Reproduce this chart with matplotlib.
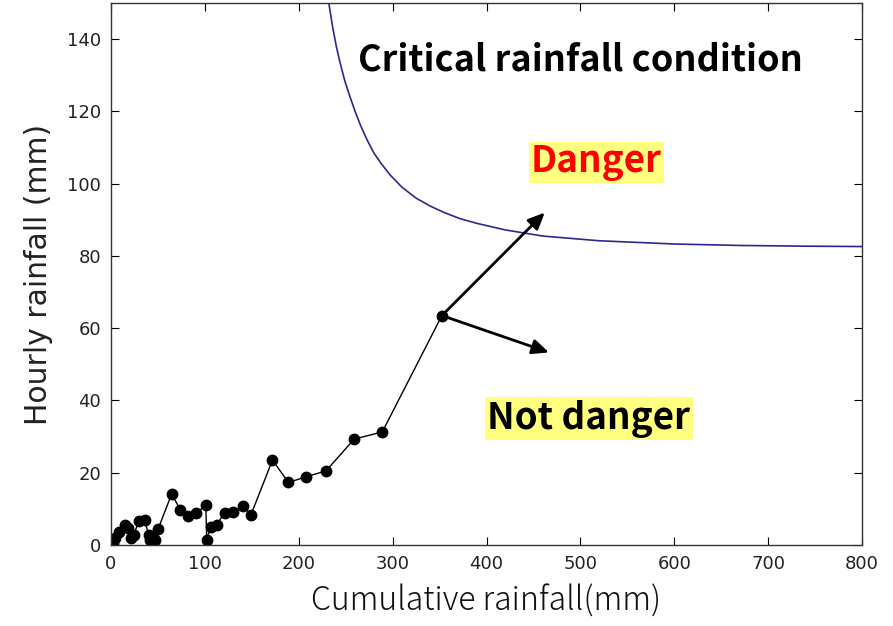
import matplotlib
matplotlib.use("Agg")
import matplotlib.pyplot as plt

plt.rcParams["font.family"] = ["DejaVu Sans"]

# Observed rainfall (cumulative vs hourly)
cumulative = [2, 4, 8, 15, 18.5, 21, 24, 30, 36, 40, 41.5, 45, 47, 50, 64.6, 74, 82, 91,
              101, 102, 106, 112.5, 121, 130, 141, 149, 172, 189, 208, 229, 259, 289, 352.5]
hourly = [0.5, 1.9, 3.7, 5.5, 4.6, 1.9, 2.8, 6.7, 6.9, 2.8, 1.4, 1.8, 1.4, 4.3, 14.1, 9.7, 8.1, 8.9,
          11, 1.4, 5, 5.6, 8.9, 9.2, 10.8, 8.3, 23.5, 17.3, 18.9, 20.5, 29.3, 31.3, 63.5]

# Critical rainfall line
crit_x = [232, 236, 240, 244, 249, 254, 260, 266, 273, 280, 288, 297, 310, 325, 340,
          355, 372, 390, 420, 460, 520, 600, 670, 740, 800]
crit_y = [150, 143.5, 138, 133.5, 128.5, 124.5, 120, 116, 112, 108.5, 105.5, 102.5, 99, 96, 93.8,
          92, 90.3, 89, 87.2, 85.5, 84.2, 83.3, 82.9, 82.7, 82.6]

xticks = [0, 100, 200, 300, 400, 500, 600, 700, 800]
yticks = [0, 20, 40, 60, 80, 100, 120, 140]

fig = plt.figure(figsize=(8.93, 6.26), dpi=100, facecolor="white")
ax = fig.add_axes([0.1243, 0.1294, 0.8410, 0.8658])

ax.plot(crit_x, crit_y, color="#2a2a8c", lw=1.2)
ax.plot(cumulative, hourly, color="black", lw=1.0, marker="o", markersize=7.5,
        markerfacecolor="black", markeredgecolor="black")

ax.set_xlim(0, 800)
ax.set_ylim(0, 150)
ax.set_xticks(xticks)
ax.set_yticks(yticks)
ax.tick_params(direction="in", top=True, right=True, length=6, width=0.8,
               labelsize=13, colors="black", pad=7)
for lbl in ax.get_xticklabels() + ax.get_yticklabels():
    lbl.set_color("#222222")
for s in ax.spines.values():
    s.set_linewidth(1.0)
    s.set_color("#333333")

jp = ["Noto Sans CJK JP", "DejaVu Sans"]
ax.set_xlabel("Cumulative rainfall(mm)", fontsize=23, family=jp,
              fontweight="light", labelpad=8, color="#111111")
ax.set_ylabel("Hourly rainfall (mm)", fontsize=21.5, labelpad=10, color="#222222")

ax.text(500, 131.2, "Critical rainfall condition", fontsize=26, fontweight="bold",
        family=jp, ha="center", va="baseline", color="black")
ax.text(517, 105.8, "Danger", fontsize=26.5, fontweight="bold", family=jp, ha="center",
        va="center", color="#ff0000",
        bbox=dict(boxstyle="square,pad=0.06", facecolor="#ffff80", edgecolor="none"))
ax.text(509, 35, "Not danger", fontsize=26.5, fontweight="bold", family=jp, ha="center",
        va="center", color="black",
        bbox=dict(boxstyle="square,pad=0.06", facecolor="#ffff80", edgecolor="none"))

arrow_kw = dict(arrowstyle="-|>,head_length=1.0,head_width=0.45", color="black", lw=2.0,
                shrinkA=0, shrinkB=0)
ax.annotate("", xy=(462, 92), xytext=(cumulative[-1], hourly[-1]), arrowprops=arrow_kw)
ax.annotate("", xy=(466.5, 53.3), xytext=(cumulative[-1], hourly[-1]), arrowprops=arrow_kw)

fig.savefig("out.png", dpi=100, facecolor="white")
